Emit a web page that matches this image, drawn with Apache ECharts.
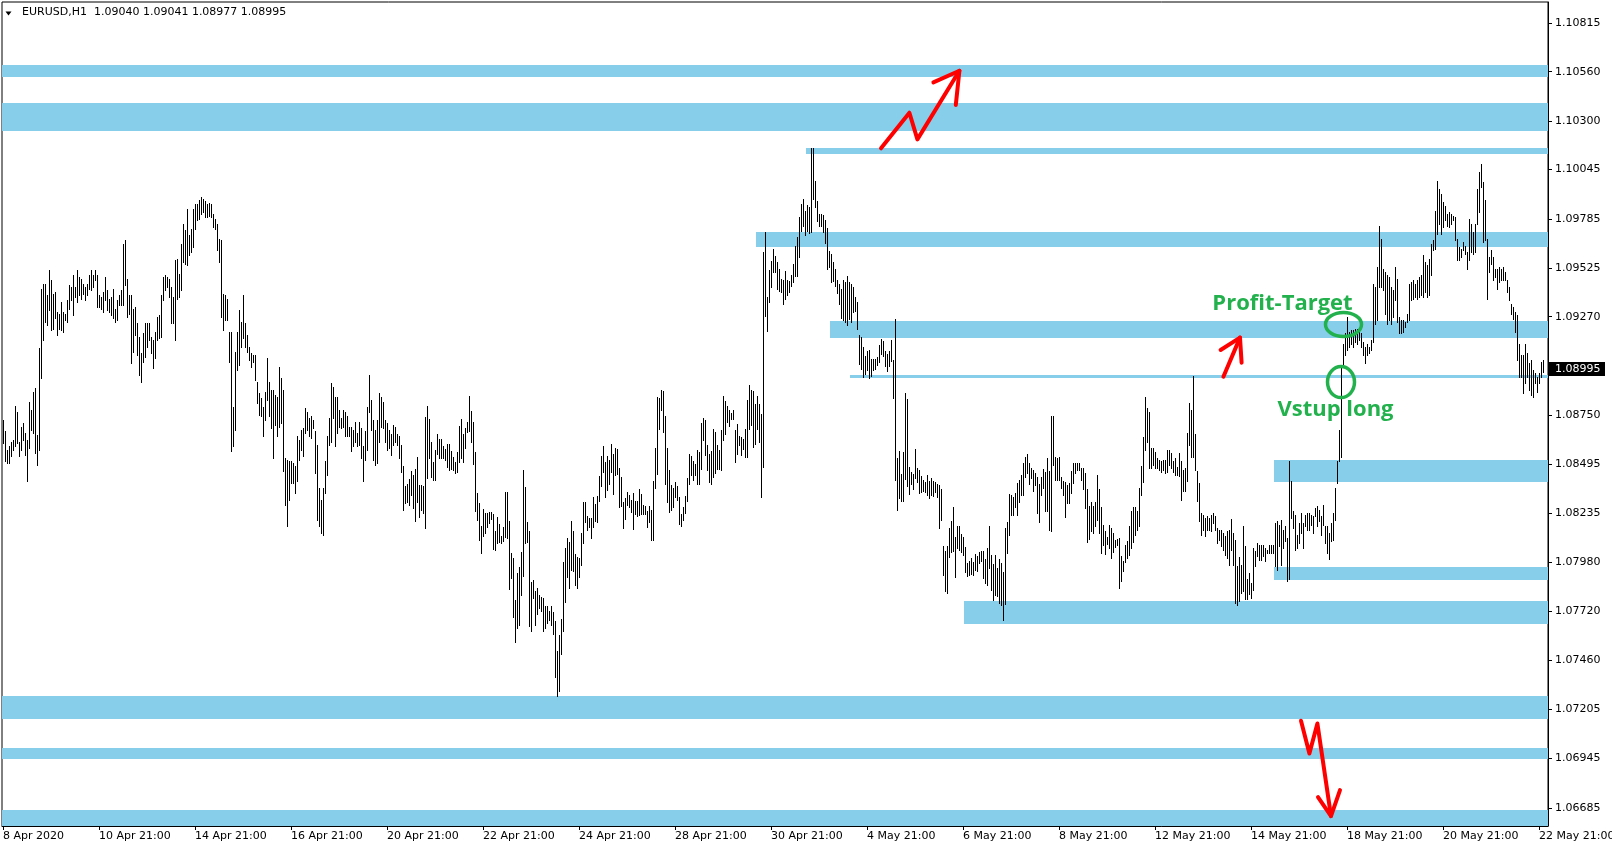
<!DOCTYPE html>
<html>
<head>
<meta charset="utf-8">
<title>EURUSD,H1</title>
<script src="https://cdn.jsdelivr.net/npm/echarts@6.0.0/dist/echarts.min.js"></script>
<style>
html,body{margin:0;padding:0;background:#ffffff;overflow:hidden}
#chart{width:1612px;height:850px}
</style>
</head>
<body>
<div id="chart"></div>
<script>
// ================= DATA =================
const symbolName = 'EURUSD,H1';
const lastBarOHLC = [1.09040, 1.09041, 1.08977, 1.08995];

const dateLabels = ['8 Apr 2020', '10 Apr 21:00', '14 Apr 21:00', '16 Apr 21:00', '20 Apr 21:00',
  '22 Apr 21:00', '24 Apr 21:00', '28 Apr 21:00', '30 Apr 21:00', '4 May 21:00', '6 May 21:00',
  '8 May 21:00', '12 May 21:00', '14 May 21:00', '18 May 21:00', '20 May 21:00', '22 May 21:00'];
const barsPerLabel = 48;
const slotCount = 773;

const priceTickLabels = [1.06685, 1.06945, 1.07205, 1.07460, 1.07720, 1.07980, 1.08235, 1.08495,
  1.08750, 1.09270, 1.09525, 1.09785, 1.10045, 1.10300, 1.10560, 1.10815];
const priceTickHidden = [1.09010];
const priceMin = 1.06589;
const priceMax = 1.10927;

// hourly bars, section A starts at bar 0
const highsA = [
1.08727,1.08666,1.08570,1.08587,1.08613,1.08622,1.08801,1.08771,1.08613,1.08692,
1.08710,1.08657,1.08622,1.08823,1.08780,1.08876,1.08893,1.08648,1.09103,1.09418,
1.09445,1.09445,1.09383,1.09515,1.09462,1.09392,1.09401,1.09296,1.09287,1.09348,
1.09296,1.09287,1.09357,1.09436,1.09427,1.09488,1.09427,1.09515,1.09480,1.09471,
1.09445,1.09427,1.09445,1.09488,1.09515,1.09488,1.09518,1.09488,1.09383,1.09375,
1.09401,1.09480,1.09410,1.09366,1.09375,1.09418,1.09313,1.09357,1.09383,1.09410,
1.09655,1.09672,1.09471,1.09383,1.09383,1.09313,1.09322,1.09235,1.09165,1.09077,
1.09182,1.09235,1.09235,1.09235,1.09165,1.09147,1.09191,1.09270,1.09278,1.09383,
1.09480,1.09488,1.09480,1.09471,1.09427,1.09375,1.09567,1.09576,1.09497,1.09655,
1.09760,1.09725,1.09838,1.09698,1.09733,1.09838,1.09865,1.09865,1.09882,1.09903,
1.09891,1.09879,1.09865,1.09868,1.09865,1.09812,1.09786,1.09760,1.09681,1.09672,
1.09392,1.09383,1.09366,1.09191,1.09191,1.08797,1.09086,1.09191,1.09305,1.09243,
1.09383,1.09235,1.09173,1.09112,1.09077,1.09068,1.09068,1.08928,1.08867,1.08841,
1.08797,1.08876,1.09051,1.08928,1.08885,1.08885,1.08858,1.08850,1.09007,1.08946,
1.08885,1.08526,1.08517,1.08508,1.08508,1.08500,1.08482,1.08640,1.08622,1.08675,
1.08683,1.08788,1.08771,1.08736,1.08745,1.08727,1.08666,1.08596,1.08368,1.08307,
1.08368,1.08508,1.08640,1.08736,1.08920,1.08902,1.08850,1.08850,1.08780,1.08736,
1.08780,1.08771,1.08745,1.08692,1.08692,1.08675,1.08718,1.08657,1.08718,1.08683,
1.08587,1.08666,1.08797,1.08963,1.08832,1.08727,1.08675,1.08727,1.08867,1.08850,
1.08823,1.08727,1.08710,1.08675];
const lowsA = [
1.08605,1.08508,1.08500,1.08500,1.08535,1.08570,1.08587,1.08605,1.08535,1.08570,
1.08622,1.08543,1.08403,1.08578,1.08675,1.08657,1.08552,1.08491,1.08570,1.08946,
1.09147,1.09243,1.09226,1.09305,1.09200,1.09208,1.09261,1.09173,1.09208,1.09200,
1.09191,1.09252,1.09243,1.09313,1.09357,1.09278,1.09375,1.09348,1.09383,1.09366,
1.09392,1.09357,1.09383,1.09418,1.09410,1.09427,1.09462,1.09322,1.09322,1.09313,
1.09296,1.09357,1.09305,1.09296,1.09278,1.09261,1.09243,1.09252,1.09331,1.09331,
1.09331,1.09436,1.09270,1.09287,1.09025,1.09086,1.09173,1.09068,1.08963,1.08928,
1.09033,1.09060,1.09112,1.09147,1.09077,1.08998,1.09051,1.09147,1.09156,1.09165,
1.09357,1.09410,1.09427,1.09375,1.09235,1.09235,1.09147,1.09366,1.09375,1.09410,
1.09558,1.09550,1.09541,1.09593,1.09611,1.09637,1.09733,1.09777,1.09786,1.09812,
1.09821,1.09795,1.09795,1.09803,1.09795,1.09742,1.09733,1.09620,1.09558,1.09270,
1.09200,1.09252,1.09252,1.09033,1.08561,1.08587,1.08675,1.08990,1.09016,1.09112,
1.09156,1.09112,1.09086,1.09042,1.09007,1.09033,1.08937,1.08815,1.08753,1.08745,
1.08640,1.08727,1.08832,1.08745,1.08683,1.08526,1.08701,1.08640,1.08692,1.08710,
1.08456,1.08281,1.08167,1.08307,1.08395,1.08395,1.08342,1.08403,1.08517,1.08570,
1.08535,1.08657,1.08675,1.08640,1.08631,1.08683,1.08447,1.08202,1.08167,1.08132,
1.08123,1.08342,1.08438,1.08596,1.08613,1.08736,1.08587,1.08657,1.08692,1.08683,
1.08692,1.08640,1.08640,1.08640,1.08561,1.08587,1.08613,1.08587,1.08596,1.08526,
1.08403,1.08517,1.08570,1.08771,1.08675,1.08517,1.08491,1.08500,1.08613,1.08692,
1.08683,1.08613,1.08570,1.08578];

// section B starts at bar 194
const highsB = [
1.08655,1.08699,1.08690,1.08655,1.08643,1.08594,1.08485,1.08380,1.08387,1.08415,
1.08457,1.08436,1.08468,1.08529,1.08384,1.08384,1.08380,1.08742,1.08800,1.08730,
1.08611,1.08503,1.08567,1.08655,1.08625,1.08625,1.08590,1.08573,1.08602,1.08602,
1.08564,1.08532,1.08506,1.08559,1.08695,1.08730,1.08655,1.08686,1.08716,1.08851,
1.08772,1.08716,1.08559,1.08343,1.08287,1.08170,1.08258,1.08235,1.08235,1.08240,
1.08244,1.08230,1.08142,1.08217,1.08179,1.08118,1.08161,1.08345,1.08345,1.08196,
1.08028,1.07999,1.07780,1.07923,1.07950,1.08034,1.08462,1.08375,1.08188,1.08144,
1.07876,1.07885,1.07824,1.07841,1.07806,1.07797,1.07789,1.07745,1.07745,1.07719,
1.07745,1.07715,1.07666,1.07512,1.07593,1.07680,1.07981,1.08055,1.08104,1.08083,
1.08196,1.08144,1.08021,1.08007,1.08002,1.08133,1.08293,1.08296,1.08223,1.08209,
1.08212,1.08322,1.08284,1.08326,1.08433,1.08538,1.08590,1.08503,1.08538,1.08515,
1.08599,1.08550,1.08581,1.08573,1.08475,1.08427,1.08293,1.08314,1.08345,1.08331,
1.08305,1.08340,1.08300,1.08301,1.08363,1.08335,1.08279,1.08275,1.08247,1.08275,
1.08252,1.08406,1.08581,1.08847,1.08844,1.08882,1.08879,1.08748,1.08580,1.08462,
1.08384,1.08366,1.08401,1.08380,1.08322,1.08231,1.08270,1.08326,1.08422,1.08546,
1.08538,1.08510,1.08497,1.08567,1.08559,1.08713,1.08739,1.08725,1.08594,1.08550,
1.08564,1.08678,1.08664,1.08594,1.08567,1.08672,1.08851,1.08826,1.08800,1.08777,
1.08765,1.08781,1.08672,1.08707,1.08643,1.08637,1.08629,1.08681,1.08830,1.08909,
1.08882,1.08877,1.08809,1.08853,1.08809,1.08760,1.09609,1.09717,1.09376,1.09518,
1.09565,1.09626];
const lowsB = [
1.08541,1.08594,1.08611,1.08594,1.08524,1.08454,1.08252,1.08287,1.08296,1.08279,
1.08331,1.08261,1.08195,1.08296,1.08217,1.08252,1.08235,1.08156,1.08419,1.08524,
1.08427,1.08410,1.08410,1.08550,1.08524,1.08524,1.08524,1.08515,1.08480,1.08462,
1.08471,1.08462,1.08445,1.08454,1.08506,1.08524,1.08506,1.08581,1.08664,1.08667,
1.08611,1.08497,1.08249,1.08200,1.08095,1.08028,1.08118,1.08130,1.08165,1.08182,
1.08205,1.08048,1.08042,1.08077,1.08083,1.08077,1.08090,1.08112,1.08107,1.07838,
1.07894,1.07687,1.07556,1.07631,1.07649,1.07803,1.07906,1.08077,1.08083,1.07640,
1.07614,1.07789,1.07645,1.07706,1.07736,1.07719,1.07614,1.07631,1.07657,1.07675,
1.07649,1.07601,1.07372,1.07271,1.07299,1.07495,1.07614,1.07768,1.07902,1.07841,
1.07937,1.07929,1.07859,1.07841,1.07902,1.07964,1.08077,1.08191,1.08147,1.08165,
1.08107,1.08165,1.08195,1.08191,1.08300,1.08380,1.08454,1.08322,1.08357,1.08392,
1.08454,1.08335,1.08436,1.08440,1.08270,1.08275,1.08160,1.08205,1.08279,1.08270,
1.08240,1.08153,1.08230,1.08223,1.08226,1.08230,1.08232,1.08230,1.08165,1.08188,
1.08095,1.08095,1.08366,1.08440,1.08681,1.08777,1.08664,1.08392,1.08293,1.08244,
1.08252,1.08270,1.08322,1.08305,1.08177,1.08170,1.08200,1.08235,1.08300,1.08387,
1.08436,1.08410,1.08436,1.08387,1.08387,1.08471,1.08620,1.08541,1.08462,1.08401,
1.08392,1.08427,1.08445,1.08471,1.08468,1.08462,1.08620,1.08655,1.08716,1.08695,
1.08730,1.08730,1.08506,1.08550,1.08594,1.08541,1.08576,1.08532,1.08532,1.08681,
1.08699,1.08585,1.08602,1.08681,1.08611,1.08322,1.08480,1.09276,1.09197,1.09350,
1.09425,1.09504];

// section C starts at bar 386
const highsC = [
1.09589,1.09557,1.09519,1.09470,1.09461,1.09513,1.09461,1.09457,1.09491,1.09548,
1.09641,1.09688,1.09793,1.09863,1.09890,1.09828,1.09858,1.09846,1.10156,1.10156,
1.09986,1.09881,1.09811,1.09811,1.09807,1.09781,1.09737,1.09618,1.09601,1.09557,
1.09519,1.09466,1.09443,1.09417,1.09466,1.09452,1.09487,1.09452,1.09443,1.09426,
1.09373,1.09347,1.09172,1.09163,1.09111,1.09064,1.09088,1.09093,1.09046,1.09046,
1.09046,1.09058,1.09123,1.09155,1.09141,1.09088,1.09072,1.09088,1.09146,1.09041,
1.09256,1.08525,1.08563,1.08442,1.08560,1.08869,1.08836,1.08481,1.08451,1.08441,
1.08574,1.08476,1.08463,1.08434,1.08411,1.08402,1.08437,1.08406,1.08420,1.08406,
1.08402,1.08388,1.08385,1.08364,1.08061,1.08038,1.08061,1.08157,1.08196,1.08266,
1.08113,1.08166,1.08171,1.08126,1.08113,1.08056,1.07973,1.07986,1.08000,1.07979,
1.08021,1.08008,1.08031,1.08038,1.08035,1.07996,1.08052,1.08166,1.08014,1.07968,
1.08014,1.07947,1.07996,1.07973,1.07926,1.08157,1.08189,1.08336,1.08332,1.08323,
1.08341,1.08393,1.08411,1.08437,1.08498,1.08533,1.08547,1.08498,1.08476,1.08463,
1.08446,1.08425,1.08390,1.08428,1.08469,1.08455,1.08525,1.08458,1.08749,1.08749,
1.08533,1.08525,1.08533,1.08428,1.08406,1.08402,1.08385,1.08393,1.08460,1.08498,
1.08498,1.08498,1.08498,1.08472,1.08472,1.08446,1.08364,1.08276,1.08297,1.08276,
1.08297,1.08437,1.08364,1.08266,1.08175,1.08140,1.08113,1.08175,1.08157,1.08131,
1.08096,1.08101,1.08105,1.08008,1.07982,1.08070,1.08087,1.08171,1.08245,1.08271,
1.08271,1.08245,1.08367,1.08486,1.08638,1.08848,1.08787,1.08770,1.08577,1.08581,
1.08556,1.08528,1.08516];
const lowsC = [
1.09505,1.09417,1.09408,1.09400,1.09338,1.09365,1.09382,1.09400,1.09431,1.09452,
1.09487,1.09487,1.09583,1.09723,1.09750,1.09701,1.09723,1.09711,1.09715,1.09890,
1.09846,1.09776,1.09750,1.09750,1.09715,1.09659,1.09522,1.09531,1.09452,1.09456,
1.09431,1.09396,1.09338,1.09263,1.09251,1.09242,1.09225,1.09260,1.09242,1.09295,
1.09298,1.09207,1.09023,1.08997,1.08953,1.08966,1.08988,1.08950,1.08959,1.08988,
1.08997,1.09015,1.09032,1.09076,1.09064,1.09011,1.08983,1.09011,1.09036,1.08843,
1.08411,1.08253,1.08318,1.08301,1.08301,1.08416,1.08379,1.08336,1.08388,1.08364,
1.08423,1.08402,1.08341,1.08346,1.08350,1.08346,1.08332,1.08318,1.08332,1.08327,
1.08346,1.08323,1.08157,1.08201,1.07909,1.07825,1.07816,1.08003,1.08031,1.08038,
1.07898,1.08052,1.08043,1.08031,1.08014,1.07926,1.07903,1.07909,1.07916,1.07912,
1.07938,1.07930,1.07973,1.07982,1.07895,1.07868,1.07856,1.07947,1.07833,1.07781,
1.07807,1.07798,1.07763,1.07755,1.07671,1.07758,1.08026,1.08122,1.08224,1.08224,
1.08271,1.08227,1.08294,1.08332,1.08329,1.08428,1.08446,1.08388,1.08420,1.08350,
1.08385,1.08236,1.08192,1.08332,1.08367,1.08248,1.08245,1.08148,1.08143,1.08490,
1.08411,1.08411,1.08411,1.08367,1.08332,1.08218,1.08288,1.08288,1.08341,1.08393,
1.08446,1.08463,1.08463,1.08411,1.08364,1.08262,1.08084,1.08101,1.08143,1.08131,
1.08171,1.08201,1.08131,1.08026,1.08070,1.08021,1.08073,1.08052,1.08000,1.08031,
1.08056,1.08066,1.07842,1.07881,1.07933,1.07979,1.08000,1.08014,1.08052,1.08084,
1.08122,1.08148,1.08166,1.08332,1.08402,1.08568,1.08609,1.08472,1.08472,1.08490,
1.08472,1.08472,1.08463];

// section D starts at bar 579
const highsD = [
1.08513,1.08516,1.08516,1.08569,1.08569,1.08551,1.08508,1.08525,1.08481,1.08551,
1.08508,1.08464,1.08473,1.08656,1.08814,1.08779,1.08959,1.08653,1.08460,1.08394,
1.08236,1.08228,1.08210,1.08219,1.08210,1.08228,1.08236,1.08219,1.08158,1.08149,
1.08149,1.08132,1.08114,1.08140,1.08149,1.08205,1.08132,1.08097,1.07957,1.08006,
1.07965,1.08167,1.08062,1.07887,1.07922,1.07869,1.08053,1.08035,1.08079,1.08070,
1.08070,1.08070,1.08053,1.08044,1.08070,1.08070,1.08070,1.08184,1.08193,1.08175,
1.08202,1.08149,1.08167,1.08105,1.08508,1.08403,1.08245,1.08228,1.08123,1.08184,
1.08236,1.08184,1.08228,1.08236,1.08236,1.08228,1.08219,1.08263,1.08272,1.08254,
1.08219,1.08280,1.08167,1.08167,1.08132,1.08184,1.08236,1.08368,1.08508,1.08674,
1.09010,1.09126,1.09185,1.09269,1.09190,1.09199,1.09199,1.09208,1.09208,1.09208,
1.09182,1.09138,1.09112,1.09129,1.09112,1.09147,1.09444,1.09427,1.09532,1.09750,
1.09680,1.09523,1.09505,1.09488,1.09479,1.09427,1.09409,1.09532,1.09470,1.09269,
1.09252,1.09252,1.09243,1.09287,1.09444,1.09453,1.09462,1.09444,1.09462,1.09479,
1.09488,1.09593,1.09558,1.09540,1.09575,1.09654,1.09672,1.09829,1.09987,1.09943,
1.09917,1.09873,1.09855,1.09812,1.09820,1.09812,1.09803,1.09794,1.09680,1.09637,
1.09628,1.09663,1.09645,1.09610,1.09785,1.09759,1.09715,1.09759,1.09943,1.10030,
1.10074,1.09978,1.09882,1.09680,1.09584,1.09619,1.09584,1.09523,1.09523,1.09532,
1.09523,1.09532,1.09505,1.09462,1.09427,1.09339,1.09322,1.09295,1.09278,1.09129,
1.09068,1.09068,1.09129,1.09077,1.09024,1.09042,1.08989,1.08972,1.08954,1.08972,
1.09033,1.09041];
const lowsD = [
1.08455,1.08464,1.08446,1.08455,1.08490,1.08473,1.08455,1.08438,1.08438,1.08429,
1.08306,1.08350,1.08350,1.08403,1.08595,1.08534,1.08534,1.08464,1.08298,1.08193,
1.08123,1.08149,1.08114,1.08149,1.08149,1.08140,1.08184,1.08149,1.08079,1.08097,
1.08062,1.08044,1.08018,1.08000,1.07965,1.08044,1.07965,1.07764,1.07750,1.07773,
1.07817,1.07825,1.07782,1.07782,1.07808,1.07790,1.07834,1.07957,1.08009,1.07992,
1.07992,1.08009,1.07983,1.08027,1.08027,1.08027,1.08027,1.07957,1.07939,1.08062,
1.07965,1.08053,1.08088,1.07878,1.07887,1.08210,1.08158,1.08044,1.08053,1.08079,
1.08132,1.08053,1.08167,1.08149,1.08149,1.08175,1.08132,1.08219,1.08167,1.08193,
1.08123,1.08175,1.08079,1.08027,1.07995,1.08088,1.08097,1.08202,1.08394,1.08508,
1.08534,1.09007,1.09068,1.09094,1.09112,1.09129,1.09112,1.09138,1.09129,1.09147,
1.09112,1.09068,1.09024,1.09068,1.09077,1.09094,1.09138,1.09234,1.09252,1.09427,
1.09427,1.09409,1.09287,1.09234,1.09252,1.09234,1.09269,1.09357,1.09243,1.09182,
1.09182,1.09190,1.09217,1.09243,1.09252,1.09357,1.09365,1.09374,1.09365,1.09374,
1.09383,1.09374,1.09400,1.09374,1.09383,1.09488,1.09619,1.09628,1.09707,1.09759,
1.09707,1.09742,1.09777,1.09750,1.09742,1.09759,1.09777,1.09672,1.09567,1.09567,
1.09584,1.09619,1.09602,1.09523,1.09567,1.09610,1.09602,1.09610,1.09759,1.09820,
1.09952,1.09663,1.09672,1.09365,1.09505,1.09549,1.09462,1.09479,1.09418,1.09453,
1.09462,1.09462,1.09462,1.09400,1.09357,1.09287,1.09260,1.09190,1.09042,1.08954,
1.08954,1.08867,1.08919,1.08954,1.08884,1.08858,1.08849,1.08919,1.08875,1.08919,
1.08954,1.08977];

const sectionStarts = [0, 194, 386, 579];

// support / resistance zones (first bar, upper price, lower price)
const zoneStartBar = [0, 0, 402, 377, 414, 424, 636, 636, 481, 0, 0, 0];
const zoneUpper = [1.10595, 1.10395, 1.10158, 1.09716, 1.09247, 1.08963, 1.08516, 1.07952, 1.07773, 1.07273, 1.06999, 1.06673];
const zoneLower = [1.10532, 1.10248, 1.10127, 1.09637, 1.09158, 1.08947, 1.08400, 1.07884, 1.07652, 1.07152, 1.06941, 1.06589];

// hand-drawn annotations, anchored at (bar, price)
const redUpZigzag = [[439, 1.10157], [453.2, 1.10344], [457.2, 1.10204], [478.2, 1.10565]];
const redUpZigzagHead = [[465.2, 1.10504], [478.2, 1.10565], [476.4, 1.10385]];
const redSmallArrow = [[610.2, 1.08954], [618.5, 1.09160]];
const redSmallArrowHead = [[608.8, 1.09095], [618.5, 1.09160], [619.3, 1.09028]];
const redDownZigzag = [[649, 1.07143], [653.2, 1.06971], [657.2, 1.07129], [664, 1.06641]];
const redDownZigzagHead = [[657.5, 1.06741], [664, 1.06641], [668.5, 1.06778]];
const greenEllipseAt = [[670.25, 1.09229], [669, 1.08926]];
const greenTexts = ['Profit-Target', 'Vstup long'];
const greenTextAt = [[639.75, 1.09337], [666.25, 1.08779]];

// ================= CHART =================
const FONT = '"DejaVu Sans", Tahoma, Verdana, sans-serif';
const ZONE_COLOR = '#87CEEB';
const RED = '#FF0000';
const GREEN = '#22B14C';
const ELLIPSE_RADII = [[18, 12], [13.5, 15.5]];

const barList = [];
[[highsA, lowsA], [highsB, lowsB], [highsC, lowsC], [highsD, lowsD]].forEach((pair, s) => {
  const start = sectionStarts[s];
  pair[0].forEach((h, k) => { barList[start + k] = [start + k, pair[1][k], h]; });
});
const barData = barList.filter(Boolean);
const zoneData = zoneStartBar.map((s, k) => [s, zoneUpper[k], zoneLower[k]]);
const categories = Array.from({length: slotCount}, (_, i) => String(i));

const chart = echarts.init(document.getElementById('chart'), null, {renderer: 'canvas'});

function coordAt(api, x, y) {
  const i0 = Math.floor(x), f = x - i0;
  const a = api.coord([i0, y]);
  const b = api.coord([i0 + 1, y]);
  return [a[0] + (b[0] - a[0]) * f, a[1]];
}

const option = {
  animation: false,
  backgroundColor: '#ffffff',
  grid: {left: 2, right: 64, top: 2, bottom: 24, containLabel: false, outerBoundsMode: 'none',
    show: true, borderColor: '#000000', borderWidth: 1, backgroundColor: 'transparent'},
  xAxis: {
    type: 'category',
    data: categories,
    boundaryGap: true,
    axisLine: {show: true, onZero: false, lineStyle: {color: '#000000', width: 1}},
    axisTick: {show: true, interval: barsPerLabel - 1, alignWithLabel: true, length: 4, lineStyle: {color: '#000000'}},
    axisLabel: {
      interval: barsPerLabel - 1,
      formatter: (v, i) => (i % barsPerLabel === 0 ? (dateLabels[i / barsPerLabel] || '') : ''),
      align: 'left', margin: 5, color: '#000000', fontSize: 11, fontFamily: FONT,
      hideOverlap: false
    },
    splitLine: {show: false}
  },
  yAxis: {
    type: 'value',
    position: 'right',
    min: priceMin,
    max: priceMax,
    axisLine: {show: true, lineStyle: {color: '#000000', width: 1}},
    axisTick: {show: true, length: 4, customValues: priceTickLabels.concat(priceTickHidden), lineStyle: {color: '#000000'}},
    axisLabel: {customValues: priceTickLabels, formatter: v => v.toFixed(5), margin: 7, color: '#000000', fontSize: 11, fontFamily: FONT},
    splitLine: {show: false}
  },
  graphic: [
    {type: 'polygon', shape: {points: [[5.5, 11.5], [11.5, 11.5], [8.5, 15.5]]}, style: {fill: '#000000'}, z: 100},
    {type: 'text', left: 22, top: 7, z: 100,
     style: {text: symbolName + '  ' + lastBarOHLC.map(v => v.toFixed(5)).join(' '), fill: '#000000', font: '11px ' + FONT}}
  ],
  series: [
    {
      name: 'zones', type: 'custom', silent: true, clip: true, z: 1,
      encode: {x: 0, y: [1, 2]},
      data: zoneData,
      renderItem: (params, api) => {
        const cs = params.coordSys;
        const s = api.value(0);
        const p = api.coord([s, api.value(1)]);
        const q = api.coord([s, api.value(2)]);
        const half = api.size([1, 0])[0] / 2;
        const x0 = Math.round(p[0] - half);
        const y0 = Math.round(p[1]), y1 = Math.round(q[1]);
        return {type: 'rect', shape: {x: x0, y: y0, width: cs.x + cs.width - x0, height: Math.max(1, y1 - y0)}, style: {fill: ZONE_COLOR}};
      }
    },
    {
      name: symbolName, type: 'custom', silent: true, clip: true, z: 2,
      encode: {x: 0, y: [1, 2]},
      data: barData,
      renderItem: (params, api) => {
        const i = api.value(0);
        const top = api.coord([i, api.value(2)]);
        const bot = api.coord([i, api.value(1)]);
        const x = Math.round(top[0]) + 0.5;
        const y1 = Math.round(top[1]);
        const y2 = Math.max(y1 + 1, Math.round(bot[1]) + 1);
        return {type: 'line', shape: {x1: x, y1: y1, x2: x, y2: y2}, style: {stroke: '#000000', lineWidth: 1}};
      }
    },
    {
      name: 'annotations', type: 'custom', silent: true, clip: false, z: 3,
      encode: {x: 0, y: 1},
      data: [[0, priceMin]],
      renderItem: (params, api) => {
        const children = [];
        const redStyle = {stroke: RED, lineWidth: 4, fill: null, lineJoin: 'round', lineCap: 'round'};
        [redUpZigzag, redUpZigzagHead, redSmallArrow, redSmallArrowHead, redDownZigzag, redDownZigzagHead].forEach(pts => {
          children.push({type: 'polyline', shape: {points: pts.map(p => coordAt(api, p[0], p[1]))}, style: redStyle});
        });
        greenEllipseAt.forEach((c, k) => {
          const p = coordAt(api, c[0], c[1]);
          children.push({type: 'ellipse', shape: {cx: p[0], cy: p[1], rx: ELLIPSE_RADII[k][0], ry: ELLIPSE_RADII[k][1]},
            style: {stroke: GREEN, lineWidth: 3.5, fill: null}});
        });
        greenTexts.forEach((t, k) => {
          const p = coordAt(api, greenTextAt[k][0], greenTextAt[k][1]);
          children.push({type: 'text', x: p[0], y: p[1],
            style: {text: t, fill: GREEN, font: 'bold 22px "Open Sans", Lato, sans-serif', align: 'center', verticalAlign: 'middle'}});
        });
        const cs = params.coordSys;
        const yP = Math.round(api.coord([0, lastBarOHLC[3]])[1]);
        children.push({type: 'rect', shape: {x: cs.x + cs.width + 1, y: yP - 7, width: 56, height: 14}, style: {fill: '#000000'}});
        children.push({type: 'text', x: cs.x + cs.width + 7, y: yP,
          style: {text: lastBarOHLC[3].toFixed(5), fill: '#ffffff', font: '11px ' + FONT, align: 'left', verticalAlign: 'middle'}});
        return {type: 'group', children: children};
      }
    }
  ]
};
chart.setOption(option);
</script>
</body>
</html>
